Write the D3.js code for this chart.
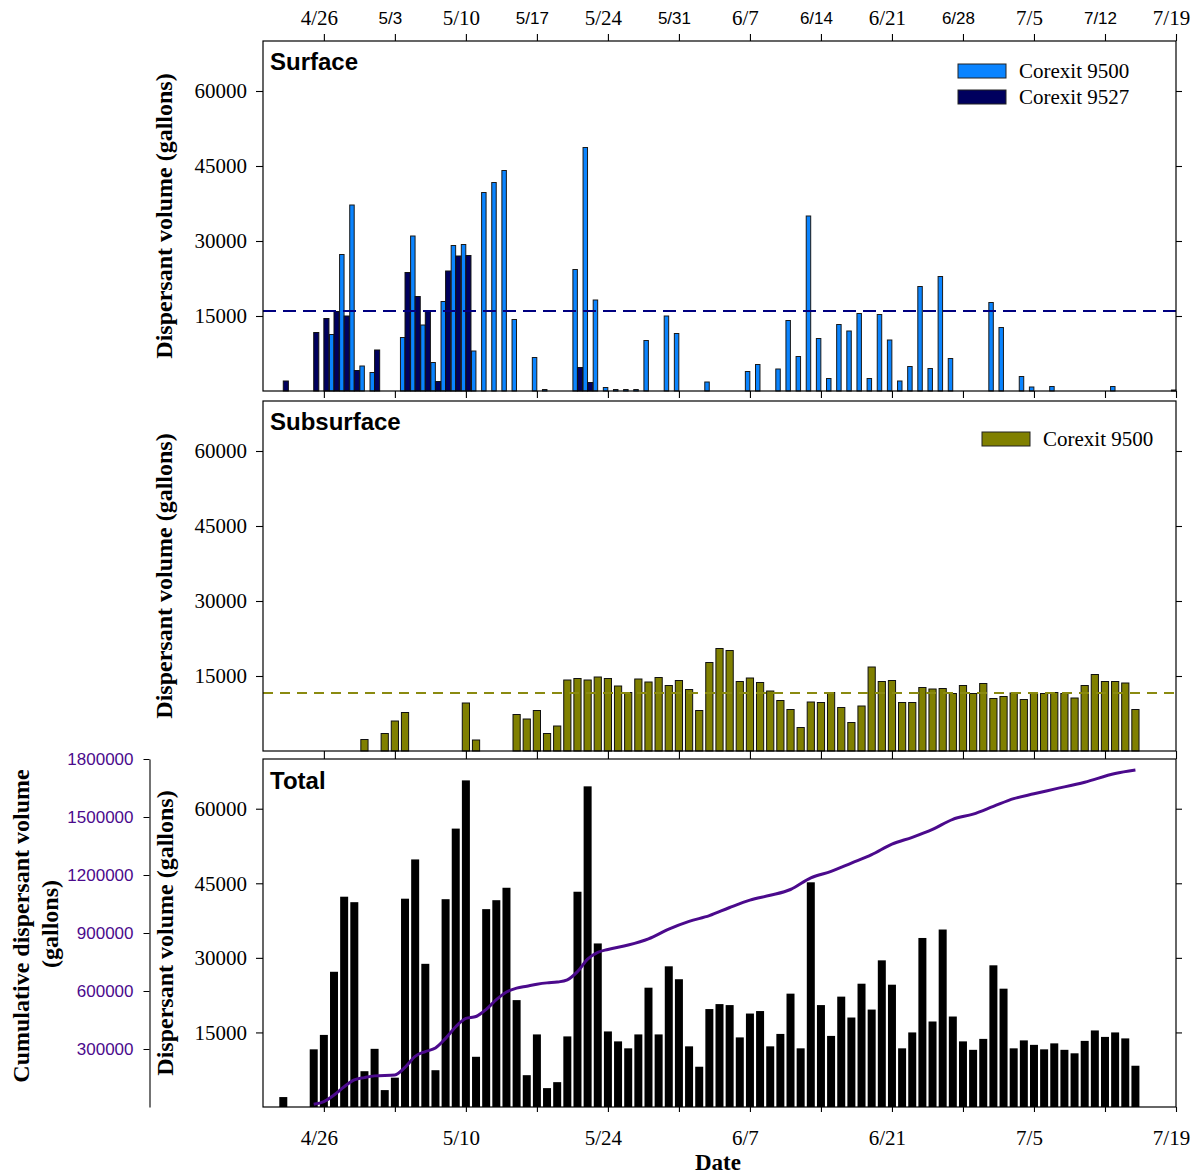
<!DOCTYPE html>
<html><head><meta charset="utf-8">
<script src="https://cdn.jsdelivr.net/npm/d3@7"></script>
<style>body{margin:0;background:#fff}</style>
</head><body>
<svg id="chart" width="1197" height="1176" xmlns="http://www.w3.org/2000/svg"></svg>
<script>
// ---------------- data ----------------
const surface9500 = [
  ["4/27",11300],["4/28",27300],["4/29",37200],["4/30",5000],["5/1",3700],
  ["5/4",10700],["5/5",31000],["5/6",13200],["5/7",5700],["5/8",17900],["5/9",29100],
  ["5/10",29300],["5/11",8000],["5/12",39700],["5/13",41700],["5/14",44100],["5/15",14300],
  ["5/17",6700],["5/18",300],["5/21",24300],["5/22",48700],["5/23",18200],["5/24",700],
  ["5/25",300],["5/26",300],["5/27",300],["5/28",10100],["5/30",15000],["5/31",11500],
  ["6/3",1800],["6/7",3900],["6/8",5300],["6/10",4400],["6/11",14100],["6/12",6900],
  ["6/13",35000],["6/14",10500],["6/15",2500],["6/16",13300],["6/17",12000],["6/18",15500],
  ["6/19",2500],["6/20",15300],["6/21",10200],["6/22",2000],["6/23",4900],["6/24",20900],
  ["6/25",4500],["6/26",22900],["6/27",6500],["7/1",17700],["7/2",12700],["7/4",2900],
  ["7/5",800],["7/7",900],["7/13",900],["7/19",200]
];
const surface9527 = [
  ["4/22",2000],["4/25",11700],["4/26",14500],["4/27",15900],["4/28",15000],["4/29",4100],
  ["5/1",8200],["5/4",23700],["5/5",18900],["5/6",15900],["5/7",1900],["5/8",24000],
  ["5/9",27000],["5/10",27100],["5/21",4700],["5/22",1700]
];
const subsurface9500 = [
  ["4/30",2300],["5/2",3500],["5/3",6000],["5/4",7700],["5/10",9600],["5/11",2200],
  ["5/15",7300],["5/16",6400],["5/17",8100],["5/18",3500],["5/19",5000],["5/20",14200],
  ["5/21",14500],["5/22",14200],["5/23",14800],["5/24",14500],["5/25",13000],["5/26",11700],
  ["5/27",14400],["5/28",13800],["5/29",14700],["5/30",13100],["5/31",14100],["6/1",12300],
  ["6/2",8100],["6/3",17700],["6/4",20500],["6/5",20100],["6/6",13900],["6/7",14600],
  ["6/8",13700],["6/9",12000],["6/10",10100],["6/11",8300],["6/12",4700],["6/13",9800],
  ["6/14",9700],["6/15",11700],["6/16",8700],["6/17",5700],["6/18",9000],["6/19",16800],
  ["6/20",13900],["6/21",14100],["6/22",9700],["6/23",9700],["6/24",12700],["6/25",12400],
  ["6/26",12500],["6/27",11500],["6/28",13100],["6/29",11500],["6/30",13500],["7/1",10500],
  ["7/2",10900],["7/3",11600],["7/4",10300],["7/5",11500],["7/6",11500],["7/7",11700],
  ["7/8",11500],["7/9",10600],["7/10",13100],["7/11",15300],["7/12",13900],["7/13",13900],
  ["7/14",13600],["7/15",8300]
];
const totalDaily = [
  ["4/22",2000],["4/25",11600],["4/26",14500],["4/27",27200],["4/28",42300],["4/29",41200],
  ["4/30",7200],["5/1",11700],["5/2",3400],["5/3",5900],["5/4",41900],["5/5",49800],
  ["5/6",28800],["5/7",7400],["5/8",41800],["5/9",56000],["5/10",65700],["5/11",10100],
  ["5/12",39800],["5/13",41600],["5/14",44100],["5/15",21500],["5/16",6400],["5/17",14600],
  ["5/18",3800],["5/19",5000],["5/20",14200],["5/21",43300],["5/22",64500],["5/23",32900],
  ["5/24",15200],["5/25",13200],["5/26",11800],["5/27",14600],["5/28",24000],["5/29",14600],
  ["5/30",28300],["5/31",25700],["6/1",12200],["6/2",8100],["6/3",19700],["6/4",20700],
  ["6/5",20500],["6/6",14000],["6/7",18800],["6/8",19300],["6/9",12200],["6/10",14700],
  ["6/11",22800],["6/12",11800],["6/13",45200],["6/14",20500],["6/15",14300],["6/16",22200],
  ["6/17",18000],["6/18",24800],["6/19",19600],["6/20",29500],["6/21",24600],["6/22",11800],
  ["6/23",15000],["6/24",34000],["6/25",17200],["6/26",35700],["6/27",18200],["6/28",13200],
  ["6/29",11500],["6/30",13700],["7/1",28500],["7/2",23800],["7/3",11800],["7/4",13400],
  ["7/5",12500],["7/6",11600],["7/7",12800],["7/8",11500],["7/9",10800],["7/10",13300],
  ["7/11",15400],["7/12",14100],["7/13",15000],["7/14",13800],["7/15",8300]
];
const cumulative = [
  ["4/25",14000],["4/26",28000],["4/27",62000],["4/28",105000],["4/29",140000],["4/30",152000],
  ["5/1",161000],["5/3",166000],["5/4",205000],["5/5",262000],["5/6",287000],["5/7",305000],
  ["5/8",355000],["5/9",415000],["5/10",458000],["5/11",468000],["5/12",505000],["5/13",555000],
  ["5/14",595000],["5/15",615000],["5/16",625000],["5/17",635000],["5/18",642000],["5/19",646000],
  ["5/20",658000],["5/21",700000],["5/22",765000],["5/23",800000],["5/24",815000],["5/26",838000],
  ["5/28",870000],["5/30",920000],["6/1",960000],["6/3",990000],["6/5",1032000],["6/7",1070000],
  ["6/9",1095000],["6/11",1125000],["6/13",1185000],["6/15",1219000],["6/17",1262000],
  ["6/19",1305000],["6/21",1360000],["6/23",1395000],["6/25",1436000],["6/27",1488000],
  ["6/29",1515000],["7/1",1555000],["7/3",1595000],["7/5",1620000],["7/7",1644000],
  ["7/10",1680000],["7/13",1725000],["7/15",1743000]
];
const surfaceMean = 16000;
const subsurfaceMean = 11600;
const volumeTicks = [15000, 30000, 45000, 60000];
const cumulativeTicks = [300000, 600000, 900000, 1200000, 1500000, 1800000];
const weekTickLabels = ["4/26","5/3","5/10","5/17","5/24","5/31","6/7","6/14","6/21","6/28","7/5","7/12","7/19"];
const majorTickLabels = ["4/26","5/10","5/24","6/7","6/21","7/5","7/19"];
const dateDomain = ["4/20","7/19"];
const seriesNames = ["Corexit 9500","Corexit 9527"];

// ---------------- drawing ----------------
const SERIF = "'Liberation Serif','Times New Roman',serif";
const SANS = "'Liberation Sans',Arial,sans-serif";
const C9500 = "#0a84ff", C9527 = "#00005e", OLIVE = "#808000", PURPLE = "#4b0a8c";

const parse = s => { const [m, d] = s.split("/").map(Number); return new Date(Date.UTC(2010, m - 1, d)); };
const fmt = d => (d.getUTCMonth() + 1) + "/" + d.getUTCDate();

const svg = d3.select("#chart");
const L = 263, R = 1176;
const P = { top: [41, 391], mid: [401, 751], bot: [759, 1107] };

const x = d3.scaleUtc().domain(dateDomain.map(parse)).range([L, R]);
const dayW = x(parse("4/21")) - x(parse("4/20"));
const yTop = d3.scaleLinear().domain([0, 70000]).range([P.top[1], P.top[0]]);
const yMid = d3.scaleLinear().domain([0, 70000]).range([P.mid[1], P.mid[0]]);
const yBot = d3.scaleLinear().domain([0, 70000]).range([P.bot[1], P.bot[0]]);
const yCum = d3.scaleLinear().domain([0, 1800000]).range([P.bot[1], P.bot[0]]);

// ---- surface bars (9500 left half, 9527 right half of each day) ----
const gTop = svg.append("g");
gTop.selectAll("rect.s9500").data(surface9500).join("rect")
  .attr("x", d => x(parse(d[0])) - dayW / 2 + 0.5).attr("width", dayW / 2 - 0.6)
  .attr("y", d => yTop(d[1])).attr("height", d => yTop(0) - yTop(d[1]))
  .attr("fill", C9500).attr("stroke", "#1a1a1a").attr("stroke-width", 1);
gTop.selectAll("rect.s9527").data(surface9527).join("rect")
  .attr("x", d => x(parse(d[0]))).attr("width", dayW / 2)
  .attr("y", d => yTop(d[1])).attr("height", d => yTop(0) - yTop(d[1]))
  .attr("fill", C9527).attr("stroke", "#111").attr("stroke-width", 1);
gTop.append("line").attr("x1", L).attr("x2", R)
  .attr("y1", yTop(surfaceMean)).attr("y2", yTop(surfaceMean))
  .attr("stroke", "#000080").attr("stroke-width", 2).attr("stroke-dasharray", "13,7");

// ---- subsurface bars ----
const gMid = svg.append("g");
gMid.selectAll("rect").data(subsurface9500).join("rect")
  .attr("x", d => x(parse(d[0])) - 3.6).attr("width", 7.2)
  .attr("y", d => yMid(d[1])).attr("height", d => yMid(0) - yMid(d[1]))
  .attr("fill", OLIVE).attr("stroke", "#111").attr("stroke-width", 1);
gMid.append("line").attr("x1", L).attr("x2", R)
  .attr("y1", yMid(subsurfaceMean)).attr("y2", yMid(subsurfaceMean))
  .attr("stroke", "#8a8a10").attr("stroke-width", 2).attr("stroke-dasharray", "10,7");

// ---- total bars + cumulative line ----
const gBot = svg.append("g");
gBot.selectAll("rect").data(totalDaily).join("rect")
  .attr("x", d => x(parse(d[0])) - 4).attr("width", 8)
  .attr("y", d => yBot(d[1])).attr("height", d => yBot(0) - yBot(d[1]))
  .attr("fill", "#000");
gBot.append("path").datum(cumulative)
  .attr("d", d3.line().x(d => x(parse(d[0]))).y(d => yCum(d[1])).curve(d3.curveMonotoneX))
  .attr("fill", "none").attr("stroke", PURPLE).attr("stroke-width", 3);

// ---- frames ----
for (const k of ["top", "mid", "bot"]) {
  svg.append("rect").attr("x", L).attr("y", P[k][0]).attr("width", R - L).attr("height", P[k][1] - P[k][0])
    .attr("fill", "none").attr("stroke", "#000").attr("stroke-width", 1.2);
}

// ---- axes ----
const weekDates = weekTickLabels.map(parse);
const isMajor = d => majorTickLabels.includes(fmt(d));
function styleTicks(g) { g.select(".domain").remove(); g.selectAll(".tick line").attr("stroke", "#000").attr("stroke-width", 1.1); }

// top date axis
svg.append("g").attr("transform", `translate(0,${P.top[0]})`)
  .call(d3.axisTop(x).tickValues(weekDates).tickSize(7).tickFormat(fmt))
  .call(styleTicks)
  .call(g => g.selectAll("text").attr("y", -23).attr("dy", "0.35em").attr("dx", -5).attr("fill", "#000")
    .attr("font-family", d => isMajor(d) ? SERIF : SANS)
    .attr("font-size", d => isMajor(d) ? 21 : 17));
// ticks between panels
svg.append("g").attr("transform", `translate(0,${P.top[1]})`)
  .call(d3.axisBottom(x).tickValues(weekDates).tickSize(7).tickFormat(""))
  .call(styleTicks);
svg.append("g").attr("transform", `translate(0,${P.mid[1]})`)
  .call(d3.axisBottom(x).tickValues(weekDates).tickSize(8).tickFormat(""))
  .call(styleTicks);
// bottom date axis
svg.append("g").attr("transform", `translate(0,${P.bot[1]})`)
  .call(d3.axisBottom(x).tickValues(weekDates).tickSize(5).tickFormat(d => isMajor(d) ? fmt(d) : ""))
  .call(styleTicks)
  .call(g => g.selectAll("text").attr("y", 31).attr("dy", "0.35em").attr("dx", -5).attr("fill", "#000")
    .attr("font-family", SERIF).attr("font-size", 21));

// y axes per panel
for (const ys of [yTop, yMid, yBot]) {
  svg.append("g").attr("transform", `translate(${L},0)`)
    .call(d3.axisLeft(ys).tickValues(volumeTicks).tickSize(7).tickPadding(9).tickFormat(d3.format("d")))
    .call(styleTicks)
    .call(g => g.selectAll("text").attr("fill", "#000").attr("font-family", SERIF).attr("font-size", 21));
  svg.append("g").attr("transform", `translate(${R},0)`)
    .call(d3.axisRight(ys).tickValues(volumeTicks).tickSize(6).tickFormat(""))
    .call(styleTicks);
}

// cumulative axis
svg.append("g").attr("transform", "translate(149.5,0)")
  .call(d3.axisLeft(yCum).tickValues(cumulativeTicks).tickSize(6).tickSizeOuter(0).tickPadding(10).tickFormat(d3.format("d")))
  .call(g => g.select(".domain").attr("stroke", "#000").attr("stroke-width", 1.1))
  .call(g => g.selectAll(".tick line").attr("stroke", "#000"))
  .call(g => g.selectAll("text").attr("fill", PURPLE).attr("font-family", SANS).attr("font-size", 17));

// ---- axis titles ----
function vText(xc, yc, txt, size) {
  svg.append("text").attr("transform", `translate(${xc},${yc}) rotate(-90)`)
    .attr("text-anchor", "middle").attr("dominant-baseline", "central")
    .attr("font-family", SERIF).attr("font-weight", "bold").attr("font-size", size).attr("fill", "#000").text(txt);
}
vText(164, (P.top[0] + P.top[1]) / 2, "Dispersant volume (gallons)", 24);
vText(164, (P.mid[0] + P.mid[1]) / 2, "Dispersant volume (gallons)", 24);
vText(165, (P.bot[0] + P.bot[1]) / 2, "Dispersant volume (gallons)", 24);
vText(21, 926, "Cumulative dispersant volume", 24);
vText(50, 924, "(gallons)", 24);
svg.append("text").attr("x", 718).attr("y", 1162).attr("text-anchor", "middle").attr("dominant-baseline", "central")
  .attr("font-family", SERIF).attr("font-weight", "bold").attr("font-size", 23).text("Date");

// ---- panel titles ----
const titles = [["Surface", 70], ["Subsurface", 430], ["Total", 789]];
for (const [t, yb] of titles) {
  svg.append("text").attr("x", 270).attr("y", yb).attr("font-family", SANS).attr("font-weight", "bold")
    .attr("font-size", 24).attr("fill", "#000").text(t);
}

// ---- legends ----
const legTop = [[seriesNames[0], C9500, 64], [seriesNames[1], C9527, 90]];
for (const [n, c, yy] of legTop) {
  svg.append("rect").attr("x", 958).attr("y", yy).attr("width", 48).attr("height", 14)
    .attr("fill", c).attr("stroke", "#222").attr("stroke-width", 1);
  svg.append("text").attr("x", 1019).attr("y", yy + 7).attr("dominant-baseline", "central")
    .attr("font-family", SERIF).attr("font-size", 21).attr("fill", "#000").text(n);
}
svg.append("rect").attr("x", 982).attr("y", 432).attr("width", 48).attr("height", 14)
  .attr("fill", OLIVE).attr("stroke", "#222").attr("stroke-width", 1);
svg.append("text").attr("x", 1043).attr("y", 439).attr("dominant-baseline", "central")
  .attr("font-family", SERIF).attr("font-size", 21).attr("fill", "#000").text(seriesNames[0]);
</script>
</body></html>
